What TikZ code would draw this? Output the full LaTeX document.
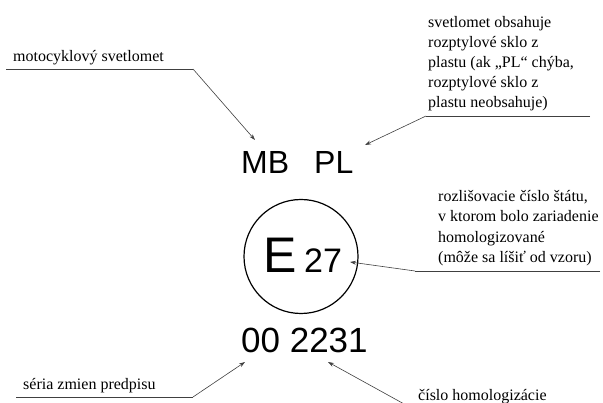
\documentclass[tikz,border=0pt]{standalone}
\usepackage{fontspec}
\setmainfont{Liberation Serif}
\newfontfamily\arialfont{Liberation Sans}
\usepackage{tikz}
\usetikzlibrary{arrows.meta}

\tikzset{
    note/.style={inner sep=0pt, anchor=base west, align=left, font=\fontsize{16}{20.6}\selectfont},
    mark text/.style={inner sep=0pt, anchor=base west, font=\arialfont},
    pointer/.style={draw=black!75, line width=0.6pt, -{Stealth[length=6pt,width=4pt]}},
    underline/.style={draw=black!75, line width=0.6pt}
}

\begin{document}
\begin{tikzpicture}[x=1pt,y=-1pt]
            \useasboundingbox (0,0) rectangle (603,403);

            % the marking itself
            \node[mark text, font=\arialfont\fontsize{32}{32}\selectfont] (MB) at (241, 174) {MB\hspace{25pt}PL};
            \node[shape=circle, draw=black, line width=1.2pt, minimum size=114pt, inner sep=0pt] (C) at (301, 256.5) {};
            \node[mark text, font=\arialfont\fontsize{50}{50}\selectfont] (E) at (263, 273) {E};
            \node[mark text, font=\arialfont\fontsize{34}{34}\selectfont] (N) at (304, 273) {27};
            \node[mark text, font=\arialfont\fontsize{35}{35}\selectfont] (S) at (241, 353) {00 2231};

            % notes (multi-line ones sit on the baseline of their last line)
            \node[note] (moto) at (13, 62) {motocyklový svetlomet};
            \node[note, font=\fontsize{16}{20}\selectfont] (plast) at (428, 108) {svetlomet obsahuje\\rozptylové sklo z\\plastu (ak „PL“ chýba,\\rozptylové sklo z\\plastu neobsahuje)};
            \node[note] (stat) at (438, 263) {rozlišovacie číslo štátu,\\v ktorom bolo zariadenie\\homologizované\\(môže sa líšiť od vzoru)};
            \node[note] (seria) at (23, 390) {séria zmien predpisu};
            \node[note] (cislo) at (418, 401) {číslo homologizácie};

            % ends of the leaders
            \coordinate (motoA) at (6, 69);
            \coordinate (motoB) at (193, 69);
            \coordinate (motoT) at (255, 140);
            \coordinate (plastA) at (590, 116);
            \coordinate (plastB) at (426, 116);
            \coordinate (plastT) at (365, 145);
            \coordinate (statA) at (600, 271);
            \coordinate (statB) at (415, 271);
            \coordinate (statT) at (350, 262);
            \coordinate (seriaA) at (16, 397);
            \coordinate (seriaB) at (193, 397);
            \coordinate (seriaT) at (245, 362);
            \coordinate (cisloA) at (415, 410);
            \coordinate (cisloT) at (328, 362);

            \path [underline] (motoA) -- (motoB);
            \path [pointer] (motoB) -- (motoT);
            \path [underline] (plastA) -- (plastB);
            \path [pointer] (plastB) -- (plastT);
            \path [underline] (statA) -- (statB);
            \path [pointer] (statB) -- (statT);
            \path [underline] (seriaA) -- (seriaB);
            \path [pointer] (seriaB) -- (seriaT);
            \path [pointer] (cisloA) -- (cisloT);
        \end{tikzpicture}
\end{document}
